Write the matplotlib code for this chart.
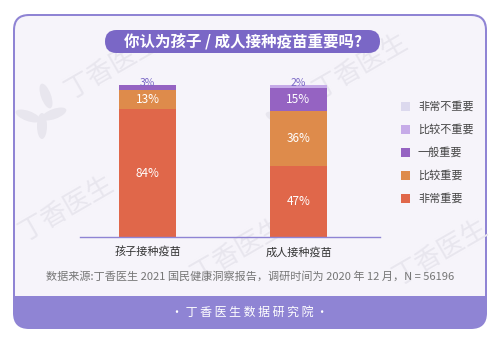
import matplotlib
matplotlib.use("Agg")
import numpy as np
import matplotlib.pyplot as plt
from matplotlib.patches import FancyBboxPatch, Rectangle, Ellipse

plt.rcParams['font.family'] = ['Noto Sans CJK SC', 'DejaVu Sans']

# survey data (percent)
groups = ["孩子接种疫苗", "成人接种疫苗"]
levels = ["非常重要", "比较重要", "一般重要", "比较不重要", "非常不重要"]
child = [84, 13, 3, 0, 0]
adult = [47, 36, 15, 2, 0]
level_colors = ["#e0674a", "#de8b4b", "#9563c2", "#c6abe8", "#dcd9ee"]

title = "你认为孩子 / 成人接种疫苗重要吗?"
source = "数据来源:丁香医生 2021 国民健康洞察报告，调研时间为 2020 年 12 月，N = 56196"
footer = "· 丁 香 医 生 数 据 研 究 院 ·"

W, H = 500, 346
fig = plt.figure(figsize=(W / 100, H / 100), dpi=100)
fig.patch.set_facecolor("white")

# background layer in pixel coordinates
bg = fig.add_axes([0, 0, 1, 1])
bg.set_xlim(0, W)
bg.set_ylim(H, 0)
bg.axis("off")

purple = "#8f84d4"
card_bg = "#f6f4fa"
bg.add_patch(FancyBboxPatch((13, 14), 474, 315, boxstyle="round,pad=0,rounding_size=16",
                            fc=purple, ec="none"))
bg.add_patch(FancyBboxPatch((15, 16), 470, 294, boxstyle="round,pad=0,rounding_size=14",
                            fc=card_bg, ec="none"))
bg.add_patch(Rectangle((13, 296), 474, 18, fc=purple, ec="none"))

# watermark
wm_color = "#e8e6ee"
for cx, cy in [(112, 66), (360, 66), (66, 208), (238, 250), (440, 252)]:
    bg.text(cx, cy, "丁香医生", fontsize=19, color=wm_color, rotation=30,
            ha="center", va="center", zorder=1)
for lx, ly in [(40, 110), (290, 112)]:
    for ang, dx, dy in [(70, 6, -14), (-20, 14, 4), (20, -12, 6), (90, 2, 16)]:
        bg.add_patch(Ellipse((lx + dx, ly + dy), 26, 10, angle=ang, fc=wm_color,
                             ec="none", zorder=1))

# title pill
bg.add_patch(FancyBboxPatch((105, 30), 275, 23, boxstyle="round,pad=0,rounding_size=11.5",
                            fc="#7a67c6", ec="none", zorder=2))
bg.text(243, 41.5, title, fontsize=11.2, fontweight="bold", color="white",
        ha="center", va="center", zorder=3)

bg.text(250, 276, source, fontsize=8, color="#767676", ha="center", va="center", zorder=3)
bg.text(250, 312, footer, fontsize=8.6, color="white", ha="center", va="center", zorder=3)

# legend
for i, (lab, col) in enumerate(zip(levels[::-1], level_colors[::-1])):
    y = 106 + 23.2 * i
    bg.add_patch(Rectangle((401, y - 4.5), 9, 9, fc=col, ec="none", zorder=3))
    bg.text(418, y, lab, fontsize=8, color="#444444", va="center", ha="left", zorder=3)

# stacked bars
ax = fig.add_axes([80 / W, (H - 237) / H, 300 / W, 152 / H])
ax.patch.set_alpha(0)
x = np.arange(len(groups))
width = 0.377
ax.set_xlim(-0.447, -0.447 + 300 / 151)
ax.set_ylim(0, 100)

data = np.array([child, adult])
bottoms = np.zeros(len(groups))
for j, col in enumerate(level_colors):
    vals = data[:, j]
    ax.bar(x, vals, width, bottom=bottoms, color=col, edgecolor="none", zorder=2)
    for i in range(len(groups)):
        v = vals[i]
        if v <= 0:
            continue
        if v >= 10:
            ax.text(x[i], bottoms[i] + v / 2, f"{v}%", color="white", fontsize=8.5,
                    ha="center", va="center", zorder=3)
        else:
            ax.text(x[i], 101.6, f"{v}%", color="#7a67c6", fontsize=7.5,
                    ha="center", va="center", zorder=3, clip_on=False)
    bottoms += vals

for s in ["top", "right", "left"]:
    ax.spines[s].set_visible(False)
ax.spines["bottom"].set_color(purple)
ax.spines["bottom"].set_linewidth(1)
ax.set_yticks([])
ax.set_xticks(x)
ax.set_xticklabels(groups, fontsize=8, color="#333333")
ax.tick_params(axis="x", length=0, pad=7)

fig.savefig("out.png", dpi=100)
